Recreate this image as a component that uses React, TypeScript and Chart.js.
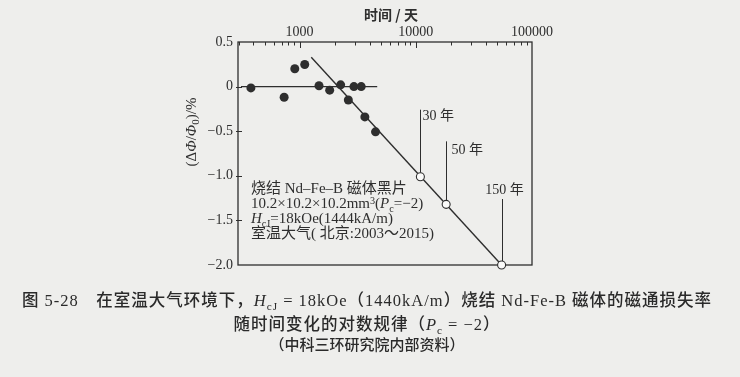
import React, { useEffect, useRef } from "react";
import { Chart, registerables } from "chart.js";
Chart.register(...registerables);

// ---- data ----
const scatterDays = [381, 736, 909, 1107, 1469, 1815, 2255, 2627, 2934, 3390, 3644, 4503];
const scatterLoss = [-0.015, -0.12, 0.2, 0.248, 0.01, -0.04, 0.02, -0.15, 0, 0, -0.34, -0.507];
const baselineDays = [313, 4655];
const baselineLoss = [0, 0];
const trendDays = [1260, 54750];
const trendLoss = [0.33, -2.0];
const forecastYears = [30, 50, 150];
const forecastLoss = [-1.01, -1.32, -2.0];
const forecastLabels = ["30 年", "50 年", "150 年"];
const xTickValues = [
  300, 400, 500, 600, 700, 800, 900,
  1000, 2000, 3000, 4000, 5000, 6000, 7000, 8000, 9000,
  10000, 20000, 30000, 40000, 50000, 60000, 70000, 80000, 90000,
  100000,
];
const xLabelValues = [1000, 10000, 100000];
const yTickValues = [0.5, 0, -0.5, -1, -1.5, -2];
const yTickLabels = ["0.5", "0", "−0.5", "−1.0", "−1.5", "−2.0"];
const xTitle = "时间 / 天";

const INK = "#2e2e2e";
const BG = "#eeeeec";
const SERIF = '"Liberation Serif", "Noto Sans CJK SC", serif';

const decorPlugin = {
  id: "decor",
  beforeDatasetsDraw(chart: any) {
    const { ctx, chartArea: a, scales } = chart;
    const xs = scales.x;
    const ys = scales.y;
    ctx.save();
    ctx.strokeStyle = INK;
    ctx.lineWidth = 1.3;
    ctx.strokeRect(a.left, a.top, a.right - a.left, a.bottom - a.top);
    ctx.lineWidth = 1;
    // top axis inward ticks
    xTickValues.forEach((v) => {
      const px = Math.round(xs.getPixelForValue(v)) + 0.5;
      if (px <= a.left + 1 || px >= a.right - 1) return;
      const len = xLabelValues.includes(v) ? 6 : 3.5;
      ctx.beginPath();
      ctx.moveTo(px, a.top);
      ctx.lineTo(px, a.top + len);
      ctx.stroke();
    });
    // left axis ticks
    yTickValues.forEach((v) => {
      const py = Math.round(ys.getPixelForValue(v)) + 0.5;
      if (py <= a.top + 1 || py >= a.bottom - 1) return;
      ctx.beginPath();
      ctx.moveTo(a.left - 2, py);
      ctx.lineTo(a.left + 4, py);
      ctx.stroke();
    });
    // forecast marker lines + labels
    const rise = [67, 63, 66];
    ctx.lineWidth = 1;
    ctx.fillStyle = INK;
    ctx.font = `14px ${SERIF}`;
    ctx.textBaseline = "middle";
    forecastYears.forEach((yr, i) => {
      const px = Math.round(xs.getPixelForValue(yr * 365)) + 0.5;
      const py = ys.getPixelForValue(forecastLoss[i]);
      const top = py - rise[i];
      ctx.beginPath();
      ctx.moveTo(px, py - 4);
      ctx.lineTo(px, top);
      ctx.stroke();
      if (i === 0) {
        ctx.textAlign = "left";
        ctx.fillText(forecastLabels[i], px + 2, top + 7);
      } else if (i === 1) {
        ctx.textAlign = "left";
        ctx.fillText(forecastLabels[i], px + 5, top + 9);
      } else {
        ctx.textAlign = "center";
        ctx.fillText(forecastLabels[i], px + 2, top - 9);
      }
    });
    // x title
    ctx.font = `bold 14px "Noto Sans CJK SC", sans-serif`;
    ctx.textAlign = "center";
    ctx.fillText(xTitle, 391, 15);
    // y title with italic Φ and subscript 0
    const segs = [
      { t: "(Δ", f: `15px ${SERIF}`, dy: 0 },
      { t: "Φ", f: `italic 15px ${SERIF}`, dy: 0 },
      { t: "/", f: `15px ${SERIF}`, dy: 0 },
      { t: "Φ", f: `italic 15px ${SERIF}`, dy: 0 },
      { t: "0", f: `11px ${SERIF}`, dy: 4 },
      { t: ")/%", f: `15px ${SERIF}`, dy: 0 },
    ];
    let total = 0;
    segs.forEach((s) => {
      ctx.font = s.f;
      total += ctx.measureText(s.t).width;
    });
    ctx.translate(192.5, 132);
    ctx.rotate(-Math.PI / 2);
    ctx.textAlign = "left";
    let cx = -total / 2;
    segs.forEach((s) => {
      ctx.font = s.f;
      ctx.fillText(s.t, cx, s.dy);
      cx += ctx.measureText(s.t).width;
    });
    ctx.restore();
  },
};

function Sub({ children }: { children: any }) {
  return (
    <span style={{ fontSize: "0.68em", position: "relative", top: "0.35em", lineHeight: 0 }}>{children}</span>
  );
}
function Sup({ children }: { children: any }) {
  return (
    <span style={{ fontSize: "0.68em", position: "relative", top: "-0.4em", lineHeight: 0 }}>{children}</span>
  );
}

export default function App() {
  const ref = useRef<HTMLCanvasElement | null>(null);
  useEffect(() => {
    document.body.style.margin = "0";
    document.body.style.background = BG;
    const canvas = ref.current!;
    const chart = new Chart(canvas, {
      type: "scatter",
      data: {
        datasets: [
          {
            data: baselineDays.map((d, i) => ({ x: d, y: baselineLoss[i] })),
            showLine: true,
            borderColor: INK,
            borderWidth: 1.4,
            pointRadius: 0,
            order: 3,
            clip: false,
          },
          {
            data: trendDays.map((d, i) => ({ x: d, y: trendLoss[i] })),
            showLine: true,
            borderColor: INK,
            borderWidth: 1.4,
            pointRadius: 0,
            order: 2,
            clip: false,
          },
          {
            data: scatterDays.map((d, i) => ({ x: d, y: scatterLoss[i] })),
            backgroundColor: INK,
            borderWidth: 0,
            pointRadius: 4.5,
            order: 1,
            clip: false,
          },
          {
            data: forecastYears.map((yr, i) => ({ x: yr * 365, y: forecastLoss[i] })),
            backgroundColor: "#fbfbfa",
            borderColor: INK,
            borderWidth: 1.1,
            pointRadius: 4,
            order: 0,
            clip: false,
          },
        ] as any,
      },
      options: {
        responsive: false,
        animation: false,
        devicePixelRatio: 1,
        layout: { padding: { left: 0, right: 208, top: 0, bottom: 112 } },
        plugins: { legend: { display: false }, tooltip: { enabled: false } },
        scales: {
          x: {
            type: "logarithmic",
            position: "top",
            min: 295,
            max: 100000,
            afterBuildTicks: (s: any) => {
              s.ticks = xTickValues.map((v) => ({ value: v }));
            },
            afterFit: (s: any) => {
              s.height = 42;
            },
            grid: { display: false, drawTicks: false },
            border: { display: false },
            ticks: {
              autoSkip: false,
              maxRotation: 0,
              padding: 1,
              color: INK,
              font: { family: SERIF, size: 14 },
              callback: (v: any) => (xLabelValues.includes(Number(v)) ? String(v) : ""),
            },
          },
          y: {
            type: "linear",
            min: -2,
            max: 0.5,
            afterBuildTicks: (s: any) => {
              s.ticks = yTickValues.map((v) => ({ value: v }));
            },
            afterFit: (s: any) => {
              s.width = 238;
            },
            grid: { display: false, drawTicks: false },
            border: { display: false },
            ticks: {
              padding: 5,
              color: INK,
              font: { family: SERIF, size: 14 },
              callback: (v: any) => {
                const i = yTickValues.indexOf(Number(v));
                return i >= 0 ? yTickLabels[i] : "";
              },
            },
          },
        },
      } as any,
      plugins: [decorPlugin],
    });
    return () => chart.destroy();
  }, []);

  const textBlock: React.CSSProperties = {
    position: "absolute",
    left: 251,
    top: 181,
    fontFamily: SERIF,
    fontSize: 15,
    lineHeight: "15px",
    color: INK,
    whiteSpace: "nowrap",
  };
  const cap: React.CSSProperties = {
    position: "absolute",
    left: 0,
    width: 734,
    textAlign: "center",
    fontFamily: SERIF,
    fontWeight: 500,
    color: "#2a2a2a",
    whiteSpace: "nowrap",
  };

  return (
    <div style={{ position: "fixed", left: 0, top: 0, width: 740, height: 377, background: BG, overflow: "hidden" }}>
      <canvas ref={ref} width={740} height={377} style={{ position: "absolute", left: 0, top: 0 }} />
      <div style={textBlock}>
        <div>烧结 Nd–Fe–B 磁体黑片</div>
        <div>
          10.2×10.2×10.2mm<Sup>3</Sup>(<i>P</i>
          <Sub>c</Sub>=−2)
        </div>
        <div>
          <i>H</i>
          <Sub>cJ</Sub>=18kOe(1444kA/m)
        </div>
        <div>室温大气( 北京:2003～2015)</div>
      </div>
      <div style={{ ...cap, top: 291, fontSize: 16.5, lineHeight: "20px", letterSpacing: "1px" }}>
        图 5-28　在室温大气环境下，<i>H</i>
        <Sub>cJ</Sub> = 18kOe（1440kA/m）烧结 Nd-Fe-B 磁体的磁通损失率
      </div>
      <div style={{ ...cap, top: 315, fontSize: 16.5, lineHeight: "20px", letterSpacing: "1px" }}>
        随时间变化的对数规律（<i>P</i>
        <Sub>c</Sub> = −2）
      </div>
      <div style={{ ...cap, top: 336, fontSize: 15, lineHeight: "18px" }}>（中科三环研究院内部资料）</div>
    </div>
  );
}
